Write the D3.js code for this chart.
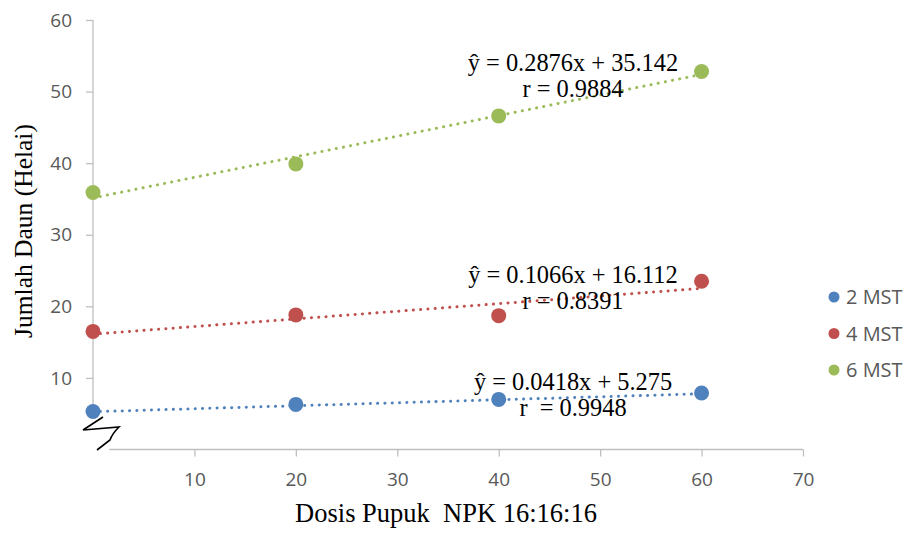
<!DOCTYPE html>
<html>
<head>
<meta charset="utf-8">
<script src="https://cdn.jsdelivr.net/npm/d3@7"></script>
<style>
  body { margin: 0; background: #fff; }
  svg { display: block; }
  .tick text { font-family: "Open Sans", sans-serif; font-size: 19px; fill: #595959; }
  .tick line, .domain { stroke: #bfbfbf; stroke-width: 1.3; }
  .serif { font-family: "Liberation Serif", "Times New Roman", serif; fill: #000; white-space: pre; }
</style>
</head>
<body>
<div id="chart"></div>
<script>
const svgWidth = 913;
const svgHeight = 533;

// data
const doses = [0, 20, 40, 60];
const series = ["2 MST", "4 MST", "6 MST"];
const mst2 = [5.3, 6.3, 7.0, 7.9];
const mst4 = [16.5, 18.8, 18.7, 23.5];
const mst6 = [35.9, 39.9, 46.6, 52.8];
const slopes = [0.0418, 0.1066, 0.2876];
const intercepts = [5.275, 16.112, 35.142];
const eqLabels = ["ŷ = 0.0418x + 5.275", "ŷ = 0.1066x + 16.112", "ŷ = 0.2876x + 35.142"];
const rLabels = ["r  = 0.9948", "r = 0.8391", "r = 0.9884"];
const xTicks = [10, 20, 30, 40, 50, 60, 70];
const yTicks = [10, 20, 30, 40, 50, 60];

const colors = ["#4f81bd", "#c0504d", "#9bbb59"];
const allValues = [mst2, mst4, mst6];

// where the equation labels sit (pixels)
const eqPos = [
  {x: 573, y1: 390, y2: 416},
  {x: 573, y1: 283, y2: 309},
  {x: 573, y1: 71, y2: 97}
];

const svg = d3.select("#chart")
  .append("svg")
  .attr("width", svgWidth)
  .attr("height", svgHeight);

const x = d3.scaleLinear().domain([0, 70]).range([93, 803]);
const y = d3.scaleLinear().domain([0, 60]).range([449.5, 20]);

// y axis (broken near the bottom)
const yAxis = svg.append("g")
  .attr("transform", `translate(${x(0)},0)`)
  .call(d3.axisLeft(y).tickValues(yTicks).tickSize(7).tickSizeOuter(0).tickPadding(14));
yAxis.select(".domain").attr("d", `M0,${y(60)}V${y(5.3)}`);

// x axis
const xAxis = svg.append("g")
  .attr("transform", `translate(0,${y(0)})`)
  .call(d3.axisBottom(x).tickValues(xTicks).tickSize(7).tickSizeOuter(0).tickPadding(16));
xAxis.select(".domain").attr("d", `M${x(1.6)},0H${x(70)}`);

// axis break mark
svg.append("path")
  .attr("d", "M103,417 L83,430 L119,427 Q112,434 110,440 L97,450")
  .attr("fill", "none")
  .attr("stroke", "#000")
  .attr("stroke-width", 1.6);

// trend lines
series.forEach((s, i) => {
  svg.append("line")
    .attr("x1", x(0))
    .attr("y1", y(intercepts[i]))
    .attr("x2", x(60))
    .attr("y2", y(intercepts[i] + slopes[i] * 60))
    .attr("stroke", colors[i])
    .attr("stroke-width", 3)
    .attr("stroke-linecap", "round")
    .attr("stroke-dasharray", "0.1 7.2");
});

// points
series.forEach((s, i) => {
  svg.append("g").selectAll("circle")
    .data(doses)
    .enter()
    .append("circle")
    .attr("cx", d => x(d))
    .attr("cy", (d, j) => y(allValues[i][j]))
    .attr("r", 7.5)
    .attr("fill", colors[i]);
});

// equations
series.forEach((s, i) => {
  svg.append("text")
    .attr("class", "serif")
    .attr("x", eqPos[i].x)
    .attr("y", eqPos[i].y1)
    .attr("text-anchor", "middle")
    .attr("font-size", 24.4)
    .text(eqLabels[i]);
  svg.append("text")
    .attr("class", "serif")
    .attr("x", eqPos[i].x)
    .attr("y", eqPos[i].y2)
    .attr("text-anchor", "middle")
    .attr("font-size", 24.4)
    .text(rLabels[i]);
});

// axis titles
svg.append("text")
  .attr("class", "serif")
  .attr("x", 446)
  .attr("y", 522)
  .attr("text-anchor", "middle")
  .attr("font-size", 26.5)
  .text("Dosis Pupuk  NPK 16:16:16");

svg.append("text")
  .attr("class", "serif")
  .attr("transform", "translate(32,231) rotate(-90)")
  .attr("text-anchor", "middle")
  .attr("font-size", 25.5)
  .text("Jumlah Daun (Helai)");

// legend
const legend = svg.append("g");
series.forEach((s, i) => {
  const ly = 297 + i * 36.5;
  legend.append("circle")
    .attr("cx", 834)
    .attr("cy", ly)
    .attr("r", 5.5)
    .attr("fill", colors[i]);
  legend.append("text")
    .attr("x", 846)
    .attr("y", ly)
    .attr("dy", "0.35em")
    .attr("font-family", "Open Sans, sans-serif")
    .attr("font-size", 20)
    .attr("fill", "#595959")
    .text(s);
});
</script>
</body>
</html>
